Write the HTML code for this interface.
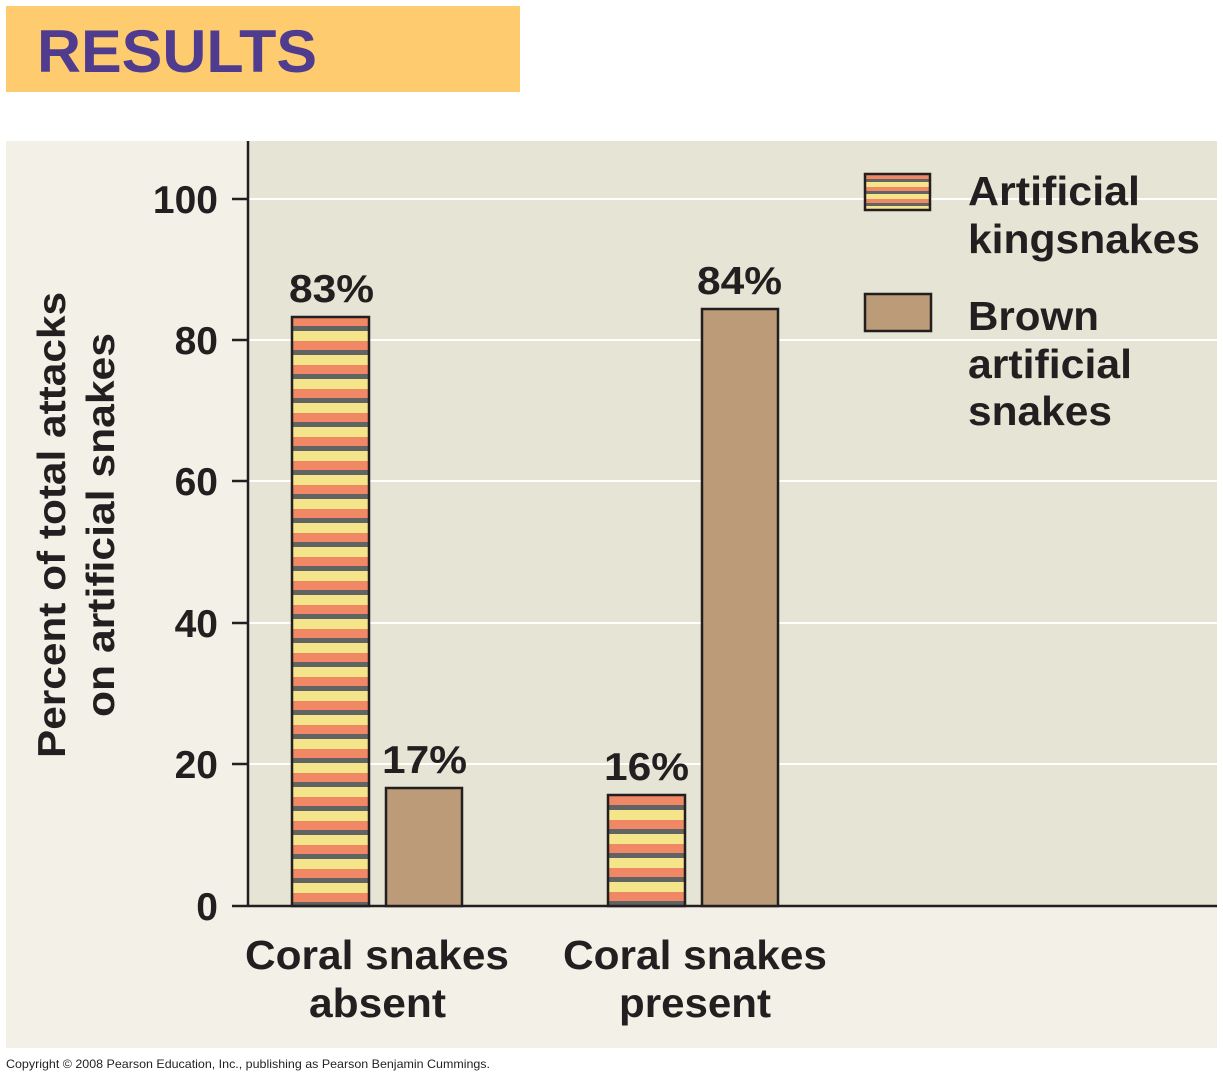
<!DOCTYPE html>
<html><head><meta charset="utf-8"><style>
html,body{margin:0;padding:0;background:#fff;}
svg{display:block;font-family:"Liberation Sans",sans-serif;}
</style></head><body>
<svg width="1223" height="1080" viewBox="0 0 1223 1080" xmlns="http://www.w3.org/2000/svg">
<defs>
<pattern id="st1" patternUnits="userSpaceOnUse" x="0" y="317" width="10" height="24">
<rect width="10" height="9" fill="#f08866"/><rect y="9" width="10" height="5" fill="#626464"/><rect y="14" width="10" height="10" fill="#f4e48a"/>
</pattern>
<pattern id="st2" patternUnits="userSpaceOnUse" x="0" y="796" width="10" height="24">
<rect width="10" height="9" fill="#f08866"/><rect y="9" width="10" height="5" fill="#626464"/><rect y="14" width="10" height="10" fill="#f4e48a"/>
</pattern>
<pattern id="st3" patternUnits="userSpaceOnUse" x="0" y="175" width="10" height="12">
<rect width="10" height="4" fill="#f08866"/><rect y="4" width="10" height="3" fill="#626464"/><rect y="7" width="10" height="5" fill="#f4e48a"/>
</pattern>
</defs>
<rect x="6" y="6" width="514" height="86" fill="#fecb6e"/>
<text x="37" y="72" font-size="60" font-weight="bold" fill="#4f3c8f" textLength="280" lengthAdjust="spacingAndGlyphs">RESULTS</text>
<rect x="6" y="141" width="1211" height="907" fill="#f3f0e8"/>
<rect x="248" y="141" width="969" height="765" fill="#e6e4d5"/>
<g stroke="#fff" stroke-width="2">
<line x1="248" y1="199" x2="1217" y2="199"/><line x1="248" y1="340" x2="1217" y2="340"/>
<line x1="248" y1="481" x2="1217" y2="481"/><line x1="248" y1="623" x2="1217" y2="623"/>
<line x1="248" y1="764" x2="1217" y2="764"/>
</g>
<g stroke="#231f20" stroke-width="2.5">
<line x1="248" y1="141" x2="248" y2="907"/><line x1="232" y1="906" x2="1217" y2="906"/>
<line x1="232" y1="199" x2="248" y2="199"/><line x1="232" y1="340" x2="248" y2="340"/>
<line x1="232" y1="481" x2="248" y2="481"/><line x1="232" y1="623" x2="248" y2="623"/>
<line x1="232" y1="764" x2="248" y2="764"/>
</g>
<g font-size="39" font-weight="bold" fill="#231f20" text-anchor="end">
<text x="218" y="213">100</text><text x="218" y="354">80</text><text x="218" y="495">60</text>
<text x="218" y="637">40</text><text x="218" y="778">20</text><text x="218" y="920">0</text>
</g>
<g stroke="#231f20" stroke-width="2.5">
<rect x="292" y="317" width="77" height="589" fill="url(#st1)"/>
<rect x="386" y="788" width="76" height="118" fill="#bb9b78"/>
<rect x="608" y="795" width="77" height="111" fill="url(#st2)"/>
<rect x="702" y="309" width="76" height="597" fill="#bb9b78"/>
<rect x="865" y="174" width="65" height="36" fill="url(#st3)"/>
<rect x="865" y="294" width="66" height="37" fill="#bb9b78"/>
</g>
<g font-size="39" font-weight="bold" fill="#231f20">
<text x="289" y="302" textLength="85" lengthAdjust="spacingAndGlyphs">83%</text>
<text x="382" y="773" textLength="85" lengthAdjust="spacingAndGlyphs">17%</text>
<text x="604" y="780" textLength="85" lengthAdjust="spacingAndGlyphs">16%</text>
<text x="697" y="294" textLength="85" lengthAdjust="spacingAndGlyphs">84%</text>
</g>
<g font-size="41" font-weight="bold" fill="#231f20">
<text x="968" y="205" textLength="172" lengthAdjust="spacingAndGlyphs">Artificial</text>
<text x="968" y="253" textLength="232" lengthAdjust="spacingAndGlyphs">kingsnakes</text>
<text x="968" y="330" textLength="131" lengthAdjust="spacingAndGlyphs">Brown</text>
<text x="968" y="378" textLength="164" lengthAdjust="spacingAndGlyphs">artificial</text>
<text x="968" y="425" textLength="144" lengthAdjust="spacingAndGlyphs">snakes</text>
</g>
<g font-size="41" font-weight="bold" fill="#231f20">
<text x="245" y="969" textLength="264" lengthAdjust="spacingAndGlyphs">Coral snakes</text>
<text x="309" y="1017" textLength="137" lengthAdjust="spacingAndGlyphs">absent</text>
<text x="563" y="969" textLength="264" lengthAdjust="spacingAndGlyphs">Coral snakes</text>
<text x="619" y="1017" textLength="152" lengthAdjust="spacingAndGlyphs">present</text>
</g>
<g font-size="39" font-weight="bold" fill="#231f20">
<text transform="translate(65,758) rotate(-90)" textLength="466" lengthAdjust="spacingAndGlyphs">Percent of total attacks</text>
<text transform="translate(114,717) rotate(-90)" textLength="384" lengthAdjust="spacingAndGlyphs">on artificial snakes</text>
</g>
<text x="6" y="1068" font-size="12" fill="#231f20" textLength="484" lengthAdjust="spacingAndGlyphs">Copyright © 2008 Pearson Education, Inc., publishing as Pearson Benjamin Cummings.</text>
</svg>
</body></html>
